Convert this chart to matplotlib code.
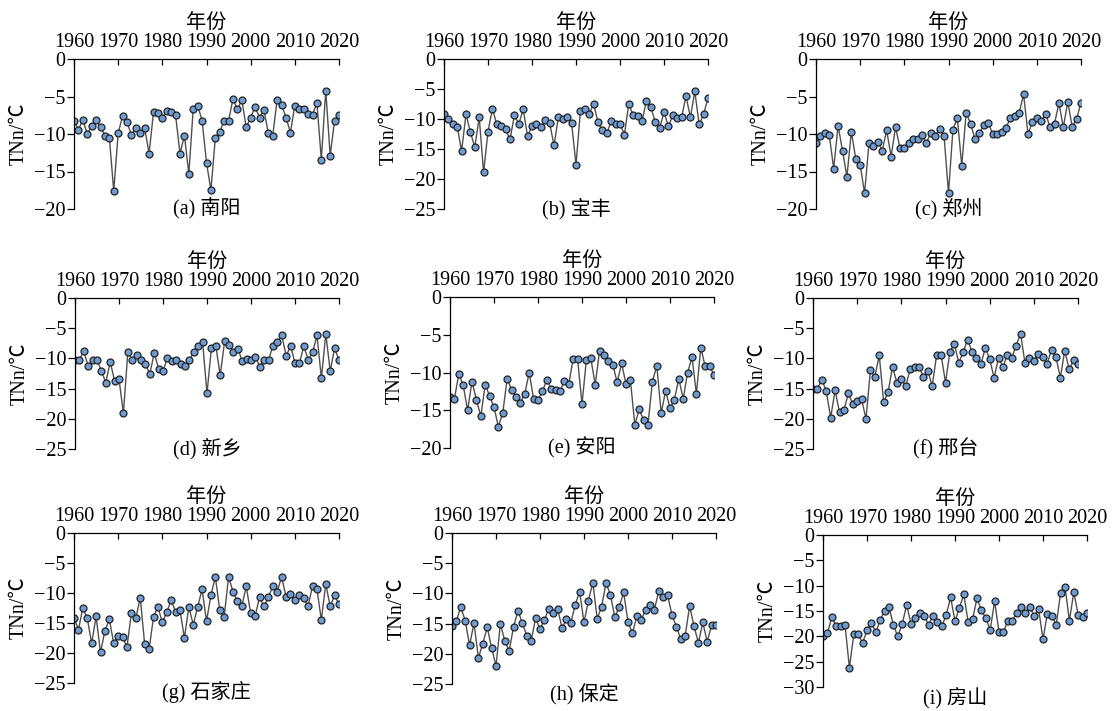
import numpy as np
import matplotlib
matplotlib.use("Agg")
import matplotlib.pyplot as plt

plt.rcParams['font.family'] = ['Liberation Serif', 'Noto Sans CJK SC']
plt.rcParams['axes.unicode_minus'] = True

years = np.arange(1960, 2021)

# 各站年极端最低气温 TNn (℃)
nanyang = [-8.2, -9.4, -8.1, -10.0, -8.9, -8.1, -9.1, -10.2, -10.5, -17.6,
           -9.9, -7.6, -8.4, -10.1, -9.2, -9.8, -9.2, -12.6, -7.1, -7.2,
           -7.8, -6.9, -7.0, -7.5, -12.6, -10.2, -15.3, -6.6, -6.2, -8.2,
           -13.8, -17.5, -10.5, -9.7, -8.2, -8.2, -5.3, -6.7, -5.5, -9.1,
           -7.8, -6.4, -7.8, -6.8, -9.9, -10.2, -5.4, -6.1, -7.8, -9.8,
           -6.2, -6.7, -6.7, -7.3, -7.4, -5.9, -13.4, -4.2, -12.9, -8.2,
           -7.4]
baofeng = [-9.1, -10.0, -10.9, -11.3, -15.3, -9.2, -12.2, -14.7, -9.7, -18.9,
           -12.1, -8.3, -10.9, -11.1, -11.7, -13.4, -9.4, -10.8, -8.4, -12.9,
           -11.1, -10.8, -11.4, -10.2, -10.6, -14.4, -9.7, -10.0, -9.6, -10.7,
           -17.6, -8.7, -8.4, -9.1, -7.5, -10.5, -11.9, -12.4, -10.4, -10.9,
           -10.8, -12.6, -7.5, -9.4, -9.5, -10.4, -7.0, -8.0, -10.5, -11.5,
           -8.9, -11.2, -9.4, -9.9, -9.7, -6.2, -9.7, -5.4, -10.9, -9.2,
           -6.5]
zhengzhou = [-11.2, -10.3, -9.8, -10.1, -14.6, -8.9, -12.2, -15.7, -9.7, -13.3,
             -14.1, -17.9, -11.2, -11.6, -11.0, -12.2, -9.5, -13.0, -9.1, -11.8,
             -11.8, -11.2, -10.6, -10.7, -10.1, -11.2, -9.8, -10.2, -9.3, -10.3,
             -17.9, -9.4, -7.9, -14.2, -7.2, -8.6, -10.7, -9.9, -8.8, -8.5,
             -10.0, -10.0, -9.7, -9.2, -7.9, -7.6, -7.2, -4.7, -10.0, -8.4,
             -7.9, -8.3, -7.3, -9.1, -8.6, -5.9, -9.1, -5.7, -9.0, -8.0,
             -5.8]
xinxiang = [-10.2, -10.2, -8.8, -11.3, -10.2, -10.2, -12.1, -14.0, -10.6, -13.7,
            -13.4, -19.1, -9.0, -10.2, -9.4, -10.2, -10.9, -12.6, -9.1, -11.7,
            -12.1, -9.9, -10.4, -10.2, -11.0, -11.2, -10.3, -8.9, -7.9, -7.3,
            -15.8, -8.3, -7.9, -12.8, -7.2, -7.7, -9.0, -8.4, -10.4, -10.1,
            -10.2, -9.7, -11.4, -10.2, -10.2, -7.9, -7.3, -6.2, -9.6, -7.9,
            -10.8, -10.8, -8.0, -10.2, -9.0, -6.2, -13.3, -5.9, -12.1, -8.3,
            -10.3]
anyang = [-13.3, -13.5, -10.2, -11.7, -15.0, -11.2, -13.6, -15.8, -11.6, -13.1,
          -14.6, -17.2, -15.3, -10.8, -12.3, -13.2, -14.0, -12.8, -10.0, -13.5,
          -13.6, -12.5, -11.0, -12.2, -12.3, -12.5, -11.1, -11.5, -8.2, -8.2,
          -14.2, -8.3, -8.1, -11.6, -7.1, -7.7, -8.5, -9.0, -11.3, -8.8,
          -11.5, -11.0, -16.9, -14.9, -16.3, -16.9, -11.2, -9.1, -15.4, -12.4,
          -14.7, -13.6, -10.8, -13.5, -10.0, -8.0, -12.8, -6.7, -9.2, -9.2,
          -10.3]
xingtai = [-15.0, -15.0, -13.5, -15.4, -19.8, -15.3, -18.9, -18.6, -15.8, -17.5,
           -17.1, -16.8, -20.0, -12.0, -13.0, -9.5, -17.2, -15.6, -11.4, -14.0,
           -13.4, -14.6, -11.8, -11.5, -11.4, -13.0, -12.1, -14.5, -9.4, -9.4,
           -14.0, -8.9, -7.6, -10.7, -9.0, -6.9, -8.9, -9.9, -11.0, -8.3,
           -10.1, -13.2, -9.9, -11.4, -9.4, -9.9, -7.9, -5.9, -10.8, -9.9,
           -10.5, -9.2, -9.8, -10.9, -8.6, -9.7, -13.2, -8.7, -11.8, -10.3,
           -10.9]
shijiazhuang = [-14.1, -16.1, -12.5, -14.2, -18.4, -13.9, -19.9, -16.3, -14.4, -18.4,
                -17.1, -17.4, -19.0, -13.3, -14.2, -10.8, -18.5, -19.4, -14.0, -12.3,
                -14.9, -13.2, -11.2, -13.1, -12.9, -17.5, -12.3, -15.3, -12.3, -9.4,
                -14.7, -10.4, -7.3, -12.9, -14.0, -7.3, -9.8, -11.3, -12.2, -8.9,
                -13.4, -13.9, -10.7, -12.2, -10.7, -8.9, -9.8, -7.3, -10.6, -10.2,
                -11.2, -10.3, -10.9, -12.2, -8.8, -9.3, -14.5, -8.5, -12.2, -10.4,
                -11.9]
baoding = [-15.4, -14.5, -12.3, -14.5, -18.6, -14.9, -20.7, -18.3, -15.6, -19.0,
           -22.0, -15.0, -17.9, -19.5, -15.5, -12.9, -14.9, -17.0, -17.8, -14.1,
           -15.9, -14.4, -12.5, -13.3, -12.5, -15.7, -14.3, -14.9, -11.9, -9.7,
           -14.8, -11.2, -8.2, -14.2, -12.2, -8.3, -10.2, -13.9, -12.3, -9.8,
           -14.7, -16.6, -13.8, -14.4, -12.7, -11.9, -12.7, -9.6, -10.6, -10.3,
           -13.6, -15.5, -17.6, -17.0, -12.1, -15.4, -18.2, -14.8, -18.0, -15.3,
           -15.2]
fangshan = [-19.9, -19.4, -16.2, -18.0, -18.0, -17.7, -26.2, -19.6, -19.6, -21.3,
            -18.8, -17.4, -19.2, -16.8, -15.0, -14.2, -17.8, -20.0, -17.6, -13.8,
            -17.5, -16.3, -15.4, -16.0, -17.7, -15.9, -17.2, -18.0, -15.8, -12.3,
            -17.0, -14.4, -11.7, -17.2, -16.6, -12.5, -14.9, -16.4, -18.7, -13.1,
            -19.1, -19.2, -16.9, -16.9, -15.4, -14.3, -15.3, -14.2, -16.0, -14.6,
            -20.6, -15.5, -15.9, -17.8, -11.4, -10.2, -16.9, -11.3, -15.8, -16.2,
            -15.4]

series = [nanyang, baofeng, zhengzhou, xinxiang, anyang, xingtai,
          shijiazhuang, baoding, fangshan]
captions = ['(a) 南阳', '(b) 宝丰', '(c) 郑州', '(d) 新乡', '(e) 安阳', '(f) 邢台',
            '(g) 石家庄', '(h) 保定', '(i) 房山']
ymins = [-20, -25, -20, -25, -20, -25, -25, -25, -30]

# 每个子图的像素框 (左, 右, 上, 下)
W, H = 1113, 711
boxes = [(74, 339, 59, 209), (444, 708, 59, 209), (816, 1081, 59, 209),
         (75, 339, 298, 449), (450, 714, 297, 448), (813, 1078, 298, 449),
         (74, 339, 533, 683), (452, 716, 533, 684), (823, 1087, 535, 687)]
cap_offset = [0, 0, 0, 0, 0, 0, -9, -11, -11]

fig = plt.figure(figsize=(W / 100, H / 100), dpi=100)

for i, (vals, cap, ymin, box) in enumerate(zip(series, captions, ymins, boxes)):
    l, r, t, b = box
    ax = fig.add_axes([l / W, 1 - b / H, (r - l) / W, (b - t) / H])
    ax.plot(years, vals, '-', color='#505050', lw=1.0,
            marker='o', ms=5, mfc='#6e9bd2', mec='#222222', mew=0.9)
    ax.set_xlim(1960, 2020)
    ax.set_ylim(ymin, 0)
    ax.set_xticks(np.arange(1960, 2021, 10))
    ax.set_yticks(np.arange(ymin, 1, 5))
    ax.xaxis.tick_top()
    ax.xaxis.set_label_position('top')
    ax.spines['right'].set_visible(False)
    ax.spines['bottom'].set_visible(False)
    ax.tick_params(axis='x', direction='in', length=4, width=0.9, labelsize=14.5, pad=5)
    ax.tick_params(axis='y', direction='out', length=5, width=0.9, labelsize=14.5, pad=1)
    for s in ('left', 'top'):
        ax.spines[s].set_linewidth(0.9)
    ax.set_xlabel('年份', fontsize=14.5, labelpad=4)
    ax.set_ylabel('TNn/℃', fontsize=14.5, labelpad=4)
    ax.text(0.5, cap_offset[i] / (b - t), cap, transform=ax.transAxes,
            ha='center', va='center', fontsize=14.5)

fig.savefig('out.png', dpi=100)
